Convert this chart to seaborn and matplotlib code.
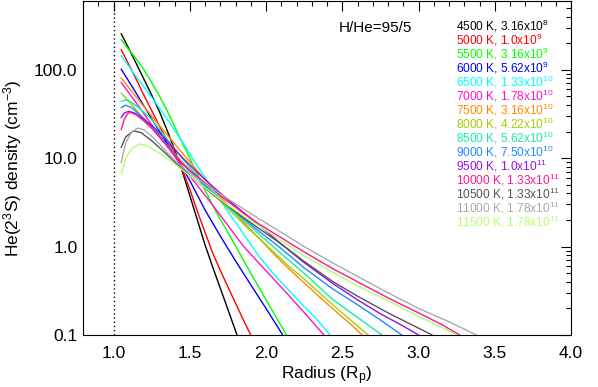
import matplotlib
matplotlib.use("Agg")
import matplotlib.pyplot as plt
import numpy as np
import pandas as pd
import seaborn as sns
from matplotlib.ticker import FixedLocator, MultipleLocator, LogLocator, NullFormatter, FixedFormatter

# ---------------- data ----------------
temps = [4500, 5000, 5500, 6000, 6500, 7000, 7500, 8000, 8500, 9000, 9500, 10000, 10500, 11000, 11500]
rate_mant = ["3.16", "1.0", "3.16", "5.62", "1.33", "1.78", "3.16", "4.22", "5.62", "7.50", "1.0", "1.33", "1.33", "1.78", "1.78"]
rate_exp = [8, 9, 9, 9, 10, 10, 10, 10, 10, 10, 11, 11, 11, 11, 11]
colors = ["#000000", "#ff0000", "#00ff00", "#0000ff", "#00ffff", "#ff11cc", "#ff8800", "#a0d000",
          "#11f0a0", "#1e8cff", "#9410e8", "#ff1493", "#555555", "#aaaaaa", "#b4ff70"]

r_4500 = [1.05, 1.10, 1.15, 1.20, 1.25, 1.30, 1.35, 1.40, 1.45, 1.50, 1.55, 1.60, 1.65, 1.70, 1.75, 1.81]
n_4500 = [257, 174, 117, 78, 52, 34, 21, 12.6, 7.2, 3.8, 2.0, 1.05, 0.59, 0.34, 0.195, 0.1]

r_5000 = [1.05, 1.10, 1.15, 1.20, 1.25, 1.30, 1.35, 1.40, 1.45, 1.50, 1.55, 1.60, 1.65, 1.70, 1.75, 1.80, 1.85, 1.90]
n_5000 = [170, 115, 77.6, 51.3, 34.7, 23.4, 16.2, 11.7, 7.6, 4.47, 2.51, 1.45, 0.85, 0.54, 0.35, 0.23, 0.15, 0.1]

r_5500 = [1.05, 1.10, 1.15, 1.20, 1.25, 1.30, 1.35, 1.40, 1.45, 1.50, 1.55, 1.60, 1.65, 1.70, 1.75, 1.80, 1.90, 2.00, 2.135]
n_5500 = [219, 170, 132, 100, 72, 51, 35, 22.9, 15.1, 10.0, 6.6, 4.37, 2.95, 2.04, 1.45, 1.02, 0.5, 0.25, 0.1]

r_6000 = [1.05, 1.15, 1.25, 1.35, 1.45, 1.50, 1.60, 1.70, 1.80, 1.90, 2.00, 2.11]
n_6000 = [102, 54, 28, 14.8, 7.9, 5.6, 2.6, 1.32, 0.69, 0.37, 0.2, 0.1]

r_6500 = [1.05, 1.15, 1.25, 1.35, 1.45, 1.55, 1.65, 1.75, 1.85, 1.95, 2.05, 2.15, 2.25, 2.35, 2.42]
n_6500 = [145, 83, 49, 28, 15.5, 8.1, 4.5, 2.5, 1.41, 0.79, 0.49, 0.32, 0.21, 0.14, 0.1]

r_7000 = [1.05, 1.15, 1.25, 1.35, 1.45, 1.55, 1.65, 1.75, 1.85, 1.95, 2.05, 2.15, 2.25, 2.38]
n_7000 = [72, 42, 24, 13.8, 8.1, 4.9, 2.95, 1.74, 1.02, 0.66, 0.43, 0.28, 0.18, 0.1]

r_7500 = [1.05, 1.15, 1.25, 1.35, 1.45, 1.55, 1.65, 1.75, 1.85, 1.95, 2.05, 2.15, 2.25, 2.35, 2.45, 2.55, 2.63]
n_7500 = [81, 49, 30, 18.6, 11.5, 7.2, 4.6, 2.95, 1.9, 1.26, 0.83, 0.56, 0.39, 0.27, 0.19, 0.135, 0.1]

r_8000 = [1.05, 1.15, 1.25, 1.35, 1.45, 1.55, 1.65, 1.75, 1.85, 1.95, 2.05, 2.15, 2.25, 2.35, 2.45, 2.55, 2.67]
n_8000 = [55, 35, 22, 14.1, 9.1, 6.0, 4.0, 2.7, 1.82, 1.26, 0.87, 0.6, 0.43, 0.3, 0.21, 0.15, 0.1]

r_8500 = [1.05, 1.08, 1.12, 1.18, 1.25, 1.35, 1.45, 1.55, 1.65, 1.75, 1.85, 1.95, 2.10, 2.25, 2.44, 2.60, 2.76]
n_8500 = [43.7, 45.7, 42.7, 35.5, 27.5, 16.6, 10.0, 6.3, 4.17, 2.82, 2.0, 1.41, 0.83, 0.5, 0.25, 0.158, 0.1]

r_9000 = [1.05, 1.08, 1.12, 1.18, 1.25, 1.35, 1.45, 1.55, 1.65, 1.75, 1.85, 1.95, 2.10, 2.25, 2.44, 2.60, 2.75, 2.89]
n_9000 = [37.2, 39.8, 37.2, 30.2, 22.9, 14.1, 8.7, 5.9, 4.07, 2.88, 2.09, 1.51, 0.95, 0.575, 0.33, 0.22, 0.148, 0.1]

r_9500 = [1.05, 1.07, 1.10, 1.14, 1.20, 1.27, 1.35, 1.45, 1.55, 1.65, 1.75, 1.85, 1.95, 2.10, 2.25, 2.44, 2.60, 2.75, 2.90, 3.00]
n_9500 = [28.8, 32.4, 33.9, 32.4, 27.5, 21.9, 15.8, 10.2, 6.9, 4.8, 3.4, 2.45, 1.78, 1.07, 0.66, 0.38, 0.25, 0.174, 0.126, 0.1]

r_10000 = [1.05, 1.07, 1.09, 1.11, 1.15, 1.20, 1.25, 1.30, 1.35, 1.40, 1.45, 1.55, 1.65, 1.75, 1.85, 1.95, 2.10, 2.25, 2.44, 2.60, 2.80, 3.00, 3.15, 3.27]
n_10000 = [20.9, 27.5, 31.6, 33.1, 30.9, 26.3, 21.9, 17.4, 13.8, 11.0, 8.7, 6.2, 4.47, 3.24, 2.4, 1.82, 1.26, 0.87, 0.56, 0.4, 0.263, 0.178, 0.132, 0.1]

r_10500 = [1.05, 1.08, 1.13, 1.18, 1.25, 1.32, 1.40, 1.45, 1.55, 1.65, 1.75, 1.85, 1.95, 2.10, 2.25, 2.44, 2.60, 2.80, 2.95, 3.09]
n_10500 = [13.2, 17.4, 20.4, 19.5, 15.8, 12.3, 9.1, 7.6, 5.4, 3.9, 2.9, 2.14, 1.62, 1.07, 0.68, 0.4, 0.275, 0.178, 0.132, 0.1]

r_11000 = [1.05, 1.08, 1.12, 1.16, 1.20, 1.25, 1.30, 1.35, 1.40, 1.45, 1.55, 1.65, 1.75, 1.85, 1.95, 2.10, 2.25, 2.44, 2.60, 2.80, 3.00, 3.20, 3.38]
n_11000 = [8.9, 14.8, 20.0, 21.9, 20.9, 17.8, 14.5, 11.7, 9.5, 7.9, 5.9, 4.47, 3.47, 2.69, 2.09, 1.45, 1.0, 0.65, 0.46, 0.3, 0.2, 0.141, 0.1]

r_11500 = [1.05, 1.08, 1.12, 1.17, 1.22, 1.30, 1.38, 1.45, 1.55, 1.65, 1.75, 1.85, 1.95, 2.10, 2.25, 2.44, 2.60, 2.80, 3.00, 3.15, 3.25]
n_11500 = [6.6, 10.0, 12.9, 14.5, 13.8, 11.5, 9.1, 7.4, 5.4, 4.0, 2.95, 2.24, 1.74, 1.17, 0.79, 0.51, 0.36, 0.245, 0.162, 0.123, 0.1]

radii = [r_4500, r_5000, r_5500, r_6000, r_6500, r_7000, r_7500, r_8000,
         r_8500, r_9000, r_9500, r_10000, r_10500, r_11000, r_11500]
dens = [n_4500, n_5000, n_5500, n_6000, n_6500, n_7000, n_7500, n_8000,
        n_8500, n_9000, n_9500, n_10000, n_10500, n_11000, n_11500]

x_ticks = [1.0, 1.5, 2.0, 2.5, 3.0, 3.5, 4.0]
x_ticklabels = ["1.0", "1.5", "2.0", "2.5", "3.0", "3.5", "4.0"]
y_ticks = [0.1, 1.0, 10.0, 100.0]
y_ticklabels = ["0.1", "1.0", "10.0", "100.0"]

# ---------------- build table ----------------
rows = []
for t, rr, nn in zip(temps, radii, dens):
    for a, b in zip(rr, nn):
        rows.append({"T": f"{t} K", "r": a, "n": b})
df = pd.DataFrame(rows)
hue_order = [f"{t} K" for t in temps]
palette = dict(zip(hue_order, colors))

# ---------------- style ----------------
sns.set_theme(style="white")
plt.rcParams["font.family"] = ["Liberation Sans", "DejaVu Sans"]
plt.rcParams["mathtext.fontset"] = "custom"
plt.rcParams["mathtext.rm"] = "Liberation Sans"
plt.rcParams["mathtext.it"] = "Liberation Sans:italic"
plt.rcParams["mathtext.default"] = "regular"

W, H = 598, 387
fig = plt.figure(figsize=(W / 100, H / 100), dpi=100)
ax = fig.add_axes([83 / W, 52 / H, 488 / W, 334 / H])

sns.lineplot(data=df, x="r", y="n", hue="T", hue_order=hue_order, palette=palette,
             sort=False, estimator=None, legend=False, linewidth=1.0, ax=ax)

ax.axvline(1.0, color="black", linestyle=(0, (1, 2)), linewidth=1.0)

ax.set_yscale("log")
ax.set_xlim(0.8, 4.0)
ax.set_ylim(0.1, 600)

ax.xaxis.set_major_locator(FixedLocator(x_ticks))
ax.xaxis.set_major_formatter(FixedFormatter(x_ticklabels))
ax.xaxis.set_minor_locator(MultipleLocator(0.1))
ax.yaxis.set_major_locator(FixedLocator(y_ticks))
ax.yaxis.set_major_formatter(FixedFormatter(y_ticklabels))
ax.yaxis.set_minor_locator(LogLocator(base=10, subs=np.arange(2, 10)))
ax.yaxis.set_minor_formatter(NullFormatter())

ax.tick_params(which="both", direction="in", top=True, right=True, color="black",
               labelsize=12.5, labelcolor="black", width=0.8)
ax.tick_params(which="major", length=7)
ax.tick_params(which="minor", length=3.5)
ax.tick_params(axis="x", which="both", pad=8)
ax.tick_params(axis="y", which="both", pad=4)
for s in ax.spines.values():
    s.set_color("black")
    s.set_linewidth(0.8)

ax.set_xlabel("Radius (R$_p$)", fontsize=12.5, color="black")
ax.set_ylabel("He(2$^3$S) density (cm$^{-3}$)", fontsize=12.5, color="black")
ax.xaxis.set_label_coords(0.5, (335 - 364) / 334)
ax.yaxis.set_label_coords((24 - 83) / 488, 0.5)

fig.text(412 / W, 1 - 32.5 / H, "H/He=95/5", ha="right", va="baseline", fontsize=11, color="black")
for i, (t, m, e, c) in enumerate(zip(temps, rate_mant, rate_exp, colors)):
    fig.text(456 / W, 1 - (31 + 14 * i) / H, f"{t} K, {m}x10$^{{{e}}}$",
             ha="left", va="baseline", fontsize=8.6, color=c)

fig.savefig("out.png", dpi=100)
